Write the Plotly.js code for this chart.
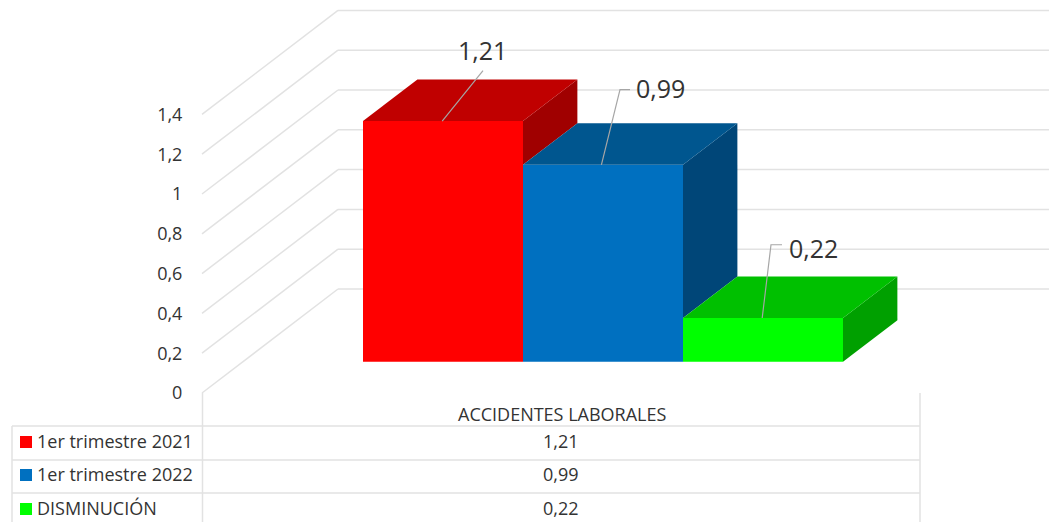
<!DOCTYPE html>
<html><head><meta charset="utf-8">
<script src="https://cdn.plot.ly/plotly-3.0.1.min.js"></script>
<style>html,body{margin:0;padding:0;background:#fff}#c{width:1049px;height:522px}</style></head>
<body><div id="c"></div>
<script>
// ---- data ----
const category = "ACCIDENTES LABORALES";
const seriesNames = ["1er trimestre 2021","1er trimestre 2022","DISMINUCIÓN"];
const seriesValues = [1.21,0.99,0.22];
const tickValues = [0,0.2,0.4,0.6,0.8,1,1.2,1.4];
const tickLabels = ["0","0,2","0,4","0,6","0,8","1","1,2","1,4"];
const valueLabels = ["1,21","0,99","0,22"];
// ---- styling ----
const frontColors = ["#FF0000","#0070C0","#00FF00"];
const topColors   = ["#C00000","#00568F","#00C000"];
const sideColors  = ["#A00000","#004678","#00A000"];
const W=1049,H=522;
const zeroPx=393, pxPerUnit=199;
const yMin=(zeroPx-H)/pxPerUnit, yMax=zeroPx/pxPerUnit;
const wallX=202, depthX=136, depthY=104/pxPerUnit;  // floor depth
const barLeft=363, barW=160, barDepthStart=0.3, barDepth=0.4;
const barBase=depthY*barDepthStart, barDX=depthX*barDepth, barDY=depthY*barDepth;
const grid="#E2E2E2", txt="#333333", font="'Open Sans', 'Noto Sans', sans-serif";
// leader-line elbows and label anchors
const leaderAnchor=[0.495,0.49,0.495];
const leaderElbow=[[483,1.62],[620,1.525],[771,0.745]];
const leaderEnd=[null,[630,1.525],[782,0.745]];
const labelPos=[[482,1.725],[660,1.532],[813,0.73]];
const py=p=>1-p/H, px=p=>p/W;

const traces=[];
// front faces: real bars
seriesValues.forEach((v,i)=>{
  traces.push({type:'bar',name:seriesNames[i],x:[barLeft+barW*(i+.5)],y:[v],base:[barBase],width:[barW],
    marker:{color:frontColors[i],line:{width:0}},hoverinfo:'name+y',showlegend:false});
});
// top + side faces
seriesValues.forEach((v,i)=>{
  const l=barLeft+barW*i,r=l+barW,t=barBase+v;
  const next=i+1<seriesValues.length?seriesValues[i+1]:0, b=barBase+next;
  traces.push({type:'scatter',mode:'lines',x:[r,r+barDX,r+barDX,r,r],y:[t,t+barDY,b+barDY,b,t],
    fill:'toself',fillcolor:sideColors[i],line:{width:0},hoverinfo:'skip',showlegend:false});
  traces.push({type:'scatter',mode:'lines',x:[l,l+barDX,r+barDX,r,l],y:[t,t+barDY,t+barDY,t,t],
    fill:'toself',fillcolor:topColors[i],line:{width:0},hoverinfo:'skip',showlegend:false});
});
// leader lines
seriesValues.forEach((v,i)=>{
  const xs=[barLeft+barW*(i+leaderAnchor[i]),leaderElbow[i][0]],ys=[barBase+v,leaderElbow[i][1]];
  if(leaderEnd[i]){xs.push(leaderEnd[i][0]);ys.push(leaderEnd[i][1]);}
  traces.push({type:'scatter',mode:'lines',x:xs,y:ys,line:{color:"#A6A6A6",width:1.2},hoverinfo:'skip',showlegend:false});
});

const shapes=[];
const gl=(x0,y0,x1,y1,xr,yr,c,w,layer)=>shapes.push({type:'line',x0,y0,x1,y1,xref:xr,yref:yr,line:{color:c||grid,width:w||1.5},layer:layer||'below'});
// wall and back gridlines
tickValues.forEach(v=>{
  gl(wallX,v,wallX+depthX,v+depthY,'x','y');
  gl(wallX+depthX,v+depthY,W,v+depthY,'x','y');
});
// data table rules
const rowY=[426,460,493], tL=12,tM=202.5,tR=920;
rowY.forEach(p=>gl(px(tL),py(p),px(tR),py(p),'paper','paper'));
gl(px(tL),py(426),px(tL),py(H),'paper','paper');
gl(px(tM),py(zeroPx),px(tM),py(H),'paper','paper');
gl(px(tR),py(zeroPx),px(tR),py(H),'paper','paper');
// legend keys
const keyY=[436,469,503];
seriesNames.forEach((n,i)=>shapes.push({type:'rect',xref:'paper',yref:'paper',x0:px(20),x1:px(32),y0:py(keyY[i]),y1:py(keyY[i]+12),
  fillcolor:frontColors[i],line:{width:0},layer:'above'}));

const annotations=[];
const ann=(text,xp,yp,size,anchor)=>annotations.push({text,xref:'paper',yref:'paper',x:px(xp),y:py(yp),showarrow:false,
  xanchor:anchor||'center',yanchor:'middle',font:{family:font,size,color:txt}});
ann(category,562,414,18);
const textY=[441,474,508];
seriesNames.forEach((n,i)=>{ann(n,35,textY[i],18,'left');ann(valueLabels[i],561,textY[i],18);});
valueLabels.forEach((t,i)=>annotations.push({text:t,xref:'x',yref:'y',x:labelPos[i][0],y:labelPos[i][1],showarrow:false,
  xanchor:'center',yanchor:'middle',font:{family:font,size:25,color:txt}}));

Plotly.newPlot('c',traces,{
  width:W,height:H,margin:{l:0,r:0,t:0,b:0},paper_bgcolor:'#fff',plot_bgcolor:'#fff',
  barmode:'overlay',showlegend:false,shapes,annotations,font:{family:font},
  xaxis:{range:[0,W],visible:false,fixedrange:true},
  yaxis:{range:[yMin,yMax],anchor:'free',position:wallX/W,side:'left',showgrid:false,zeroline:false,showline:false,
    tickmode:'array',tickvals:tickValues,ticktext:tickLabels,ticks:'outside',ticklen:16,tickcolor:'rgba(0,0,0,0)',
    tickfont:{family:font,size:18,color:txt},fixedrange:true}
},{displayModeBar:false,staticPlot:true});
</script></body></html>
